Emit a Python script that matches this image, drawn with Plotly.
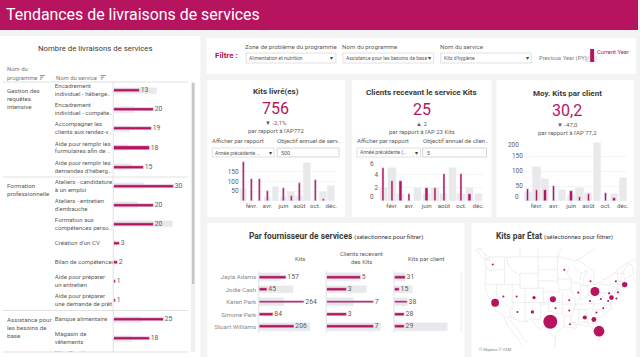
import math
import plotly.graph_objects as go

# ---------- DATA ----------
MONTHS = ["janv.", "févr.", "mars", "avr.", "mai", "juin", "juil.", "août", "sept.", "oct.", "nov.", "déc."]
MONTH_TICKS = ["févr.", "avr.", "juin", "août", "oct.", "déc."]
KITS_CY = [200, 112, 112, 51, 0, 64, 27, 91, 0, 105, 10, 0]
KITS_PY = [61, 0, 0, 20, 73, 20, 44, 27, 195, 0, 47, 78]
CLIENTS_CY = [5, 3, 3, 1, 0, 2, 2, 4, 0, 4, 1, 0]
CLIENTS_PY = [2, 5, 1, 0, 2, 1, 2, 1, 5, 1, 2, 1]
AVG_CY = [40, 38, 38, 51, 0, 32, 13, 23, 0, 26, 10, 0]
AVG_PY = [30, 112, 75, 0, 36, 20, 45, 27, 195, 0, 24, 78]

SERVICES = ["Encadrement<br>individuel - héberge..", "Encadrement<br>individuel - compéte..",
            "Accompagner les<br>clients aux rendez-v..", "Aide pour remplir les<br>formulaires afin de ..",
            "Aide pour remplir les<br>demandes d'héberg..", "Ateliers - candidature<br>à un emploi",
            "Ateliers - entretien<br>d'embauche", "Formation aux<br>compétences perso..",
            "Création d'un CV", "Bilan de compétences", "Aide pour préparer<br>un entretien",
            "Aide pour préparer<br>une demande de prêt", "Banque alimentaire",
            "Magasin de<br>vêtements", "Kits d'hygiène<br> "]
SERVICE_CY = [13, 20, 19, 18, 15, 30, 20, 20, 3, 2, 1, 1, 25, 18, None]
SERVICE_PY = [21.5, 10.5, 8, 7, 9, 15, 12, 29.5, 1, 1, 0, 0, 14, 9, None]

PROVIDERS = ["Jayla Adams", "Jodie Cash", "Karen Park", "Simone Park", "Stuart Williams"]
PROV_KITS_CY = [157, 45, 264, 84, 206]
PROV_KITS_PY = [123, 201, 150, 0, 298]
PROV_CLIENTS_CY = [5, 3, 7, 3, 7]
PROV_CLIENTS_PY = [5, 6, 4, 0, 8]
PROV_AVG_CY = [31, 15, 38, 28, 29]
PROV_AVG_PY = [31, 52, 37, 0, 156]

STATE_LON = [-121.5, -93.9, -120.6, -117.4, -112.3, -105.6, -98.3, -112.0, -106.2, -97.3, -99.3, -92.0, -92.0,
             -91.7, -88.5, -83.8, -82.1, -84.0, -79.8, -77.0, -75.7, -76.6, -74.0, -70.6, -73.2, -73.8, -78.9,
             -81.5, -86.0, -82.5, -80.5]
STATE_LAT = [47.2, 45.9, 36.9, 38.7, 38.7, 38.4, 37.9, 34.2, 34.2, 35.3, 31.2, 37.6, 34.6,
             30.4, 39.8, 42.9, 40.1, 37.4, 38.0, 37.4, 38.4, 39.6, 42.9, 42.0, 39.9, 38.1, 35.3,
             34.0, 32.5, 31.9, 28.2]
STATE_KITS = [3, 2, 50, 3, 2, 9, 30, 3, 9, 2, 160, 3, 3,
              2, 4, 2, 66, 2, 3, 2, 18, 4, 3, 24, 4, 2, 2,
              2, 14, 20, 93]

OUTLINE = [(-124.7, 48.4), (-124.1, 46.3), (-124.5, 42.8), (-124.3, 40.4), (-122.5, 37.8), (-120.6, 34.5), (-118.4, 34),
           (-117.1, 32.5), (-114.7, 32.7), (-111, 31.3), (-108.2, 31.3), (-108.2, 31.8), (-106.5, 31.8), (-104.5, 29.6),
           (-103.2, 29), (-102.4, 29.8), (-101, 29.4), (-99.5, 27.5), (-97.2, 25.9), (-97.4, 27.5), (-95, 29.2),
           (-93.8, 29.7), (-91, 29.3), (-89.2, 29.1), (-89.5, 30.3), (-87.5, 30.3), (-85, 29.7), (-84, 30.1),
           (-82.7, 28.5), (-81.8, 26), (-81, 25.1), (-80.2, 25.5), (-80.1, 27), (-81.4, 30.7), (-80.9, 32), (-79, 33.4),
           (-77.9, 33.9), (-75.6, 35.3), (-76, 37), (-75.2, 38), (-74.9, 39.2), (-74, 40.5), (-72, 41), (-70, 41.7),
           (-70.8, 42.8), (-70, 43.8), (-67, 44.8), (-67.8, 47.1), (-69.2, 47.4), (-71.5, 45), (-74.9, 45), (-76.5, 44),
           (-79, 43.3), (-79, 42.8), (-83, 42), (-82.5, 43), (-82.5, 45.3), (-84.5, 46.5), (-88.4, 48.3), (-89.5, 48),
           (-95.1, 49), (-123, 49), (-122.5, 48.2), (-124.7, 48.4)]
BORDERS = [
    [(-124, 46.3), (-122.7, 45.7), (-119, 46), (-117, 46)], [(-117, 49), (-117, 42)], [(-124.2, 42), (-111, 42)],
    [(-116, 49), (-116, 48), (-114.5, 46), (-111, 44.5)], [(-111, 45), (-111, 41), (-104, 41)], [(-111, 45), (-104, 45)],
    [(-104, 49), (-104, 41)], [(-104, 46), (-96.5, 46)], [(-104, 43), (-98, 43), (-96.5, 42.5)], [(-102, 40), (-95.3, 40)],
    [(-104, 41), (-102, 41), (-102, 37)], [(-109, 41), (-109, 31.3)], [(-114, 37), (-94.6, 37)], [(-114, 42), (-114, 35)],
    [(-120, 42), (-120, 39), (-114.6, 35), (-114.7, 32.7)], [(-103, 37), (-103, 32), (-106.5, 32)],
    [(-103, 36.5), (-100, 36.5), (-100, 34.5), (-97, 33.8), (-94.5, 33.6), (-94, 33), (-93.8, 29.7)],
    [(-94.5, 36.5), (-94.5, 33.6)], [(-94, 33), (-91.2, 33), (-91.5, 31), (-89.7, 31), (-89.5, 30.3)],
    [(-94.6, 40), (-94.6, 36.5), (-90.2, 36.5), (-89.7, 36)], [(-96.5, 49), (-96.5, 42.5), (-95.8, 40.6), (-91.5, 40.6)],
    [(-96.5, 43.5), (-91.2, 43.5)],
    [(-92, 46.7), (-92.8, 45), (-91.2, 43.5), (-91, 42), (-91.5, 40.6), (-90, 38.8), (-89.5, 37), (-89.7, 36), (-90.2, 35), (-91.2, 33)],
    [(-90.6, 42.5), (-87.8, 42.5), (-87.5, 41.7), (-86.5, 42), (-86.3, 44), (-85, 45.7), (-87.5, 45), (-87.8, 43)],
    [(-90.4, 46.6), (-87.6, 45.1)], [(-87.5, 41.7), (-87.5, 39.3), (-88, 37.8)],
    [(-89.1, 37), (-88, 37.8), (-85.7, 38.3), (-84.8, 39.1), (-82.6, 38.4), (-81.7, 39.2), (-80.6, 40.6)],
    [(-84.8, 39.1), (-84.8, 41.7)], [(-87, 41.75), (-83.4, 41.7)], [(-80.5, 42), (-80.5, 39.7), (-75.8, 39.7), (-75.1, 38.5)],
    [(-79.8, 42.2), (-79.8, 42), (-75.3, 42), (-74.7, 41.4), (-75.5, 39.6)], [(-73.4, 45), (-73.3, 42.7), (-73.6, 41)],
    [(-73.3, 42.7), (-71, 42.7)], [(-73.4, 42), (-71.5, 42), (-71.8, 41.3)], [(-71.5, 45), (-72.5, 42.7)], [(-71, 45.3), (-70.7, 43)],
    [(-81.7, 37.3), (-80, 38), (-78.3, 39.4), (-77.7, 39.3)], [(-75.9, 36.5), (-81.7, 36.6), (-83.7, 36.6), (-89.5, 36.5)],
    [(-82, 37.5), (-83.7, 36.6)], [(-90.2, 35), (-84.3, 35), (-81.7, 36.6)], [(-88.2, 35), (-88.4, 30.3)],
    [(-85.6, 35), (-85, 32.3), (-85, 31), (-87.6, 31)], [(-85, 31), (-84.9, 30.7), (-82.2, 30.6), (-81.5, 30.7)],
    [(-83.1, 35), (-81, 32)], [(-83.1, 35), (-81, 35), (-79.7, 34.8), (-78.5, 33.9)],
    [(-117.1, 32.5), (-115.8, 30), (-113, 27), (-110, 23.5)], [(-114.7, 31.7), (-112, 29), (-109.5, 25.5), (-108, 24.5)],
    [(-97.2, 25.9), (-97.8, 22.5)], [(-74.9, 45), (-70, 47.5), (-65, 49)], [(-123, 49), (-127, 51)],
    [(-125.5, 51), (-128, 50.8), (-125.3, 48.7), (-123.4, 48.4), (-125, 50)],
    [(-111, 49), (-111, 51)], [(-104, 49), (-104, 51)], [(-96.5, 49), (-95, 51)], [(-89.5, 48), (-82, 51)],
]

# ---------- STYLE ----------
RED = "#B7145F"
GREY = "#E9E9E9"
TXT = "#5c5c5c"
DARK = "#3b3b3b"
FONT = "Roboto"
FS = 1.0
W, H = 640, 357


def px(x):
    return x / W


def py(y):
    return 1 - y / H


def merc(lat):
    return math.degrees(math.log(math.tan(math.pi / 4 + math.radians(lat) / 2)))


fig = go.Figure()
shapes, annots, axes = [], [], {}
axis_n = [0]


def rect(x0, y0, x1, y1, fill="white", line=None, lw=0.7, layer="below"):
    shapes.append(dict(type="rect", xref="paper", yref="paper", x0=px(x0), x1=px(x1), y0=py(y1), y1=py(y0),
                       fillcolor=fill, line=dict(color=line or "rgba(0,0,0,0)", width=lw if line else 0), layer=layer))


def hline(x0, x1, y, color="#d9d9d9", w=0.8):
    shapes.append(dict(type="line", xref="paper", yref="paper", x0=px(x0), x1=px(x1), y0=py(y), y1=py(y),
                       line=dict(color=color, width=w), layer="above"))


def vline(x, y0, y1, color="#d9d9d9", w=0.8):
    shapes.append(dict(type="line", xref="paper", yref="paper", x0=px(x), x1=px(x), y0=py(y0), y1=py(y1),
                       line=dict(color=color, width=w), layer="above"))


def txt(x, y, s, size=7, color=TXT, anchor="left"):
    annots.append(dict(xref="paper", yref="paper", x=px(x), y=py(y), text=s, showarrow=False, xanchor=anchor,
                       yanchor="middle", align=anchor, borderpad=0,
                       font=dict(family=FONT, size=size * FS, color=color)))


def new_axes(x0, x1, y0, y1, xr=None, yr=None, xopts=None, yopts=None):
    axis_n[0] += 1
    n = axis_n[0]
    xa = dict(domain=[px(x0), px(x1)], anchor=f"y{n}", showgrid=False, zeroline=False, showline=False,
              showticklabels=False, ticks="", fixedrange=True)
    ya = dict(domain=[py(y1), py(y0)], anchor=f"x{n}", showgrid=False, zeroline=False, showline=False,
              showticklabels=False, ticks="", fixedrange=True)
    if xr:
        xa["range"] = xr
    if yr:
        ya["range"] = yr
    xa.update(xopts or {})
    ya.update(yopts or {})
    axes[f"xaxis{n}"] = xa
    axes[f"yaxis{n}"] = ya
    return f"x{n}", f"y{n}"


# ---------- PANELS ----------
rect(0, 0, 640, 30, RED)
rect(0, 36, 201, 357)
rect(207, 38, 638, 74)
rect(208, 80, 346, 217)
rect(353, 80, 493, 217)
rect(498, 80, 636, 217)
rect(208, 223, 466, 357)
rect(473, 223, 638, 357)

txt(5, 15, "Tendances de livraisons de services", 15.9, "white")

# ---------- LEFT TABLE ----------
txt(95.7, 48.5, "Nombre de livraisons de services", 7.8, DARK, "center")
txt(6, 69.5, "Nom du", 5.9, "#777777")
txt(6, 78, "programme", 5.9, "#777777")
txt(55, 78, "Nom du service", 5.9, "#777777")
for sx in (40, 101):
    for i, ln in enumerate((5, 3.5, 2)):
        hline(sx, sx + ln, 75.5 + i * 1.8, "#666666", 0.7)
for (row_y, lines) in ((91, ["Gestion des", "requêtes", "intensive"]), (186, ["Formation", "professionnelle"]),
                       (320, ["Assistance pour", "les besoins de", "base"])):
    for i, t in enumerate(lines):
        txt(6, row_y + i * 8, t, 6.2)

rows = list(range(len(SERVICES)))
y_rng = [13.7, -0.46]
xa, ya = new_axes(55, 113.5, 82, 352, [0, 1], y_rng)
fig.add_trace(go.Scatter(x=[0] * len(rows), y=rows, mode="text", text=SERVICES, textposition="middle right",
                         textfont=dict(family=FONT, size=6.1, color=TXT), xaxis=xa, yaxis=ya, cliponaxis=True,
                         hoverinfo="skip"))
xa, ya = new_axes(114, 190, 82, 352, [0, 38], y_rng)
fig.add_trace(go.Bar(y=rows, x=SERVICE_PY, orientation="h", marker_color=GREY, width=0.32, xaxis=xa, yaxis=ya))
fig.add_trace(go.Bar(y=rows, x=SERVICE_CY, orientation="h", marker_color=RED, width=0.16, xaxis=xa, yaxis=ya,
                     text=[f"\u2009{v}" if v is not None else "" for v in SERVICE_CY], textposition="outside",
                     constraintext="none", cliponaxis=False,
                     textfont=dict(family=FONT, size=6.8, color=TXT)))
hline(3, 188, 82)
hline(3, 188, 177)
hline(3, 188, 310.5)
hline(3, 188, 352)
vline(113.5, 82, 352)
rect(191.5, 82, 196, 352, "#f1f1f1")
rect(192.5, 83, 195, 284, "#c6c6c6")

# ---------- FILTERS ----------
txt(215, 55.5, "<b>Filtre :</b>", 8, RED)
for x0, x1, label, value in ((247, 337, "Zone de problème du programme", "Alimentation et nutrition"),
                             (344, 435, "Nom du programme", "Assistance pour les besoins de base"),
                             (442, 533, "Nom du service", "Kits d'hygiène")):
    txt(x0 - 2, 47, label, 6.2)
    rect(x0, 53, x1, 63, "white", "#d4d4d4")
    txt(x0 + 2, 58, value, 5.0)
    txt(x1 - 4, 58, "▾", 6, "#444444", "center")
txt(540, 59, "Previous Year (PY)", 5.8, "#7d7d7d")
rect(588, 56, 599, 62, GREY)
rect(592, 49, 596, 62, RED)
txt(598, 52, "Current Year", 5.8, RED)


# ---------- KPI PANELS ----------
def month_chart(x0, step, y_top, y_max, cy, py_vals, ticks, edge):
    xa, ya = new_axes(x0, x0 + 12 * step, y_top, 201, None, [0, y_max],
                      dict(type="category", categoryorder="array", categoryarray=MONTHS, tickmode="array",
                           tickvals=MONTH_TICKS, ticktext=MONTH_TICKS, showticklabels=True, ticklen=0,
                           tickfont=dict(family=FONT, size=6.2, color=TXT), range=[-0.5, 11.5]),
                      dict(tickmode="array", tickvals=ticks, ticktext=[str(t) for t in ticks], showticklabels=True,
                           showgrid=True, gridcolor="#f5f5f5", gridwidth=0.6,
                           tickfont=dict(family=FONT, size=6.4, color=TXT)))
    fig.add_trace(go.Bar(x=MONTHS, y=py_vals, marker_color=GREY, width=0.84, xaxis=xa, yaxis=ya))
    fig.add_trace(go.Bar(x=MONTHS, y=cy, marker_color=RED, width=0.27, xaxis=xa, yaxis=ya))
    for v, shift in edge:
        annots.append(dict(xref="paper", yref=ya, x=px(x0 - 3), y=v, yshift=shift, text=str(v), showarrow=False,
                           xanchor="right", yanchor="middle", font=dict(family=FONT, size=6.4, color=TXT)))


def kpi(cx, title, value, delta, sub, ty):
    txt(cx, ty, f"<b>{title}</b>", 8, DARK, "center")
    txt(cx, ty + 16, value, 16, RED, "center")
    txt(cx, ty + 30.5, delta, 6, TXT, "center")
    txt(cx, ty + 38, sub, 6, TXT, "center")


def controls(xl, lab2, xd0, xd1, xi0, xi1, dd, val):
    txt(xl, 141, "Afficher par rapport", 6)
    txt(xi0 - 1, 141, lab2, 6)
    rect(xd0, 148, xd1, 157, "white", "#d4d4d4")
    txt(xd0 + 2, 152.5, dd, 5.0)
    txt(xd1 - 4, 152.5, "▾", 6, "#444444", "center")
    rect(xi0, 148, xi1, 157, "white", "#c4c4c4")
    txt(xi0 + 3, 152.5, val, 5.4)


kpi(276.5, "Kits livré(es)", "756", "▼ -2,1%", "par rapport à l'AP772", 92)
controls(212, "Objectif annuel de serv..", 213, 275, 278, 340, "Année précédente ...", "500")
month_chart(240.3, 8, 161, 203, KITS_CY, KITS_PY, [50, 100, 150], [])

kpi(423, "Clients recevant le service Kits", "25", "▲ 2", "par rapport à l'AP 23 Kits", 93)
controls(357, "Objectif annuel de clien..", 358, 422, 424, 488, "Année précédente (...", "5")
month_chart(380.4, 8.65, 161, 6, CLIENTS_CY, CLIENTS_PY, [2, 4], [(0, 4), (6, -3)])

kpi(569, "Moy. Kits par client", "30,2", "▼ -47,0", "par rapport à l'AP 77,2", 94)
month_chart(525.4, 8.65, 141, 200, AVG_CY, AVG_PY, [50, 100, 150], [(0, 4), (200, -4)])

# ---------- PROVIDERS ----------
txt(337, 235.5, "<b>Par fournisseur de services</b> <span style='font-size:6.2px'>(sélectionnez pour filtrer)</span>",
    8.4, DARK, "center")
txt(300.7, 258, "Kits", 6, TXT, "center")
txt(362.7, 253, "Clients recevant", 6, TXT, "center")
txt(362.7, 261.5, "des Kits", 6, TXT, "center")
txt(427.7, 258, "Kits par client", 6, TXT, "center")
prov_rows = list(range(len(PROVIDERS)))
for i, (x0, x1, xmax, cy, pv) in enumerate(((260, 322, 364, PROV_KITS_CY, PROV_KITS_PY),
                                            (327.7, 392, 9.5, PROV_CLIENTS_CY, PROV_CLIENTS_PY),
                                            (395.7, 460, 188, PROV_AVG_CY, PROV_AVG_PY))):
    yopts = dict(tickmode="array", tickvals=prov_rows, ticktext=PROVIDERS, showticklabels=True, ticklen=0,
                 ticklabelstandoff=2, tickfont=dict(family=FONT, size=6.2, color="#8a8a8a")) if i == 0 else None
    xa, ya = new_axes(x0, x1, 271, 333, [0, xmax], [4.5, -0.5], None, yopts)
    fig.add_trace(go.Bar(y=prov_rows, x=pv, orientation="h", marker_color=GREY, width=0.62, xaxis=xa, yaxis=ya))
    fig.add_trace(go.Bar(y=prov_rows, x=cy, orientation="h", marker_color=RED, width=0.22, xaxis=xa, yaxis=ya,
                         text=[f"\u2009{v}" for v in cy], textposition="outside", constraintext="none", cliponaxis=False,
                         textfont=dict(family=FONT, size=6.8, color=TXT)))
    vline(x0 - 0.5, 271, 333)
vline(462.7, 271, 333, "#efefef", 1.2)

# ---------- MAP ----------
txt(556, 235.5, "<b>Kits par État</b> <span style='font-size:6.2px'>(sélectionnez pour filtrer)</span>", 8.4, DARK, "center")
lon_l = -124.7 + (474 - 486) / 2.6
lon_r = -124.7 + (638 - 486) / 2.6
m_top = 56.4 - (248 - 257) / 2.75
m_bot = 56.4 - (351 - 257) / 2.75
xa, ya = new_axes(474, 638, 248, 351, [lon_l, lon_r], [m_bot, m_top])
bx, by = [], []
for seg in [OUTLINE] + BORDERS:
    for lon, lat in seg:
        bx.append(lon)
        by.append(merc(lat))
    bx.append(None)
    by.append(None)
fig.add_trace(go.Scatter(x=bx, y=by, mode="lines", line=dict(color="#e2e2e2", width=0.6), xaxis=xa, yaxis=ya,
                         hoverinfo="skip"))
fig.add_trace(go.Scatter(x=STATE_LON, y=[merc(v) for v in STATE_LAT], mode="markers", xaxis=xa, yaxis=ya,
                         marker=dict(color=RED, size=STATE_KITS, sizemode="area", sizeref=2 * 160 / 14 ** 2, sizemin=1,
                                     opacity=1, line=dict(width=0))))
txt(479, 349, "© Mapbox © OSM", 4, "#8a8a8a")

fig.update_layout(width=W, height=H, margin=dict(l=0, r=0, t=0, b=0), paper_bgcolor="#F3F3F3", plot_bgcolor="rgba(0,0,0,0)",
                  barmode="overlay", showlegend=False, shapes=shapes, annotations=annots, bargap=0,
                  font=dict(family=FONT), **axes)
fig.write_html("out.html", config=dict(displayModeBar=False),
               post_script="document.documentElement.style.overflow='hidden';document.body.style.margin='0';")
